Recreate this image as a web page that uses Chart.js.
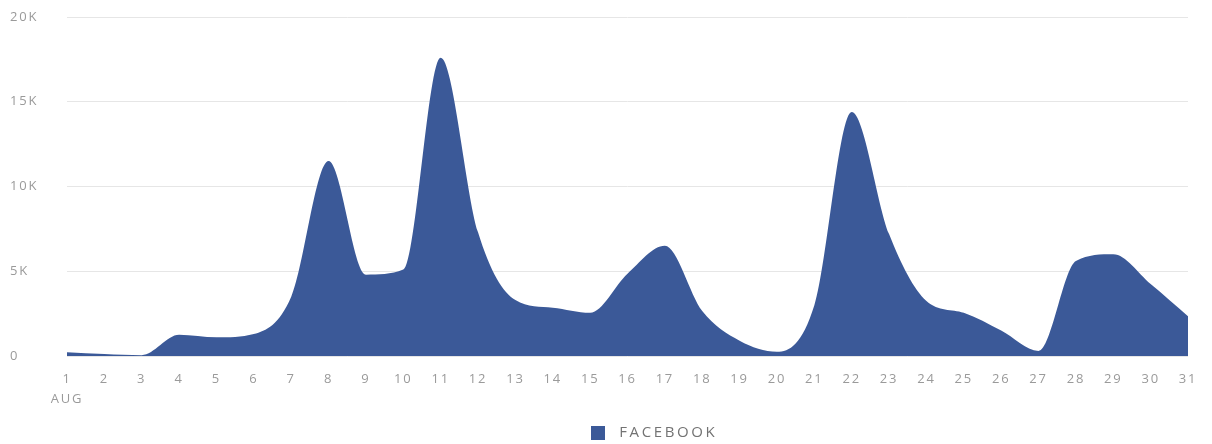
<!DOCTYPE html>
<html>
<head>
<meta charset="utf-8">
<script src="https://cdn.jsdelivr.net/npm/chart.js@4"></script>
<style>
  html, body { margin: 0; padding: 0; background: #fff; }
  #wrap { width: 1212px; height: 444px; }
</style>
</head>
<body>
<div id="wrap"><canvas id="fbChart"></canvas></div>
<script>
// days of August
const days = ['1', '2', '3', '4', '5', '6', '7', '8', '9', '10', '11', '12', '13', '14', '15', '16',
              '17', '18', '19', '20', '21', '22', '23', '24', '25', '26', '27', '28', '29', '30', '31'];
const monthLabel = 'AUG';
const seriesName = 'FACEBOOK';
const facebook = [220, 120, 50, 1250, 1100, 1300, 3500, 11500, 4800, 5100, 17600, 7300, 3300, 2850, 2550, 4850,
                  6500, 2650, 900, 250, 3000, 14400, 7200, 3250, 2550, 1500, 300, 5600, 6000, 4250, 2350];
const yTicks = [0, 5000, 10000, 15000, 20000];

const fbBlue = '#3b5998';
const grey = '#9a9a9a';
const fontFam = '"Open Sans", "Noto Sans", sans-serif';

// small square used as the legend marker
const marker = document.createElement('canvas');
marker.width = 14; marker.height = 14;
const mctx = marker.getContext('2d');
mctx.fillStyle = fbBlue;
mctx.fillRect(0, 0, 14, 14);

// letter spacing: ticks a little, legend a bit more; legend nudged right/down
const spacing = {
  id: 'spacing',
  afterInit(chart) {
    const lg = chart.legend;
    if (!lg) return;
    const draw = lg.draw, fit = lg.fit;
    lg.draw = function() {
      const c = chart.ctx; const old = c.letterSpacing;
      c.save();
      c.translate(52, 6);
      c.letterSpacing = '2.6px'; draw.apply(this, arguments);
      c.restore();
      c.letterSpacing = old;
    };
    lg.fit = function() {
      const c = chart.ctx; const old = c.letterSpacing;
      c.letterSpacing = '2.6px'; fit.apply(this, arguments); c.letterSpacing = old;
    };
  },
  beforeUpdate(chart) { chart.ctx.letterSpacing = '1.8px'; },
  beforeDraw(chart) { chart.ctx.letterSpacing = '1.8px'; }
};

const ctx = document.getElementById('fbChart').getContext('2d');
new Chart(ctx, {
  type: 'line',
  data: {
    labels: days,
    datasets: [{
      label: seriesName,
      data: facebook,
      fill: 'origin',
      backgroundColor: fbBlue,
      borderColor: fbBlue,
      borderWidth: 0,
      pointRadius: 0,
      pointStyle: marker,
      cubicInterpolationMode: 'monotone'
    }]
  },
  options: {
    responsive: true,
    maintainAspectRatio: false,
    animation: false,
    layout: { padding: { left: 10, right: 24, top: 17, bottom: 0 } },
    scales: {
      x: {
        offset: false,
        grid: { display: false },
        border: { display: false },
        afterFit: function(scale) { scale.height = 57; },
        ticks: {
          color: grey,
          font: { family: fontFam, size: 13, lineHeight: 1.5 },
          padding: 6,
          maxRotation: 0,
          autoSkip: false,
          callback: function(value, index) {
            return index === 0 ? [days[index], monthLabel] : days[index];
          }
        }
      },
      y: {
        min: 0,
        max: 20000,
        afterBuildTicks: function(scale) {
          scale.ticks = yTicks.map(v => ({ value: v }));
        },
        afterFit: function(scale) { scale.width = 57; },
        grid: { color: '#e6e6e6', drawTicks: false },
        border: { display: false },
        ticks: {
          color: grey,
          crossAlign: 'far',
          font: { family: fontFam, size: 13 },
          padding: 6,
          callback: function(v) { return v === 0 ? '0' : (v / 1000) + 'K'; }
        }
      }
    },
    plugins: {
      legend: {
        position: 'bottom',
        labels: {
          color: '#737373',
          font: { family: fontFam, size: 15 },
          usePointStyle: true,
          pointStyleWidth: 27,
          boxHeight: 14,
          padding: 6
        }
      },
      tooltip: { enabled: false }
    }
  },
  plugins: [spacing]
});
</script>
</body>
</html>
